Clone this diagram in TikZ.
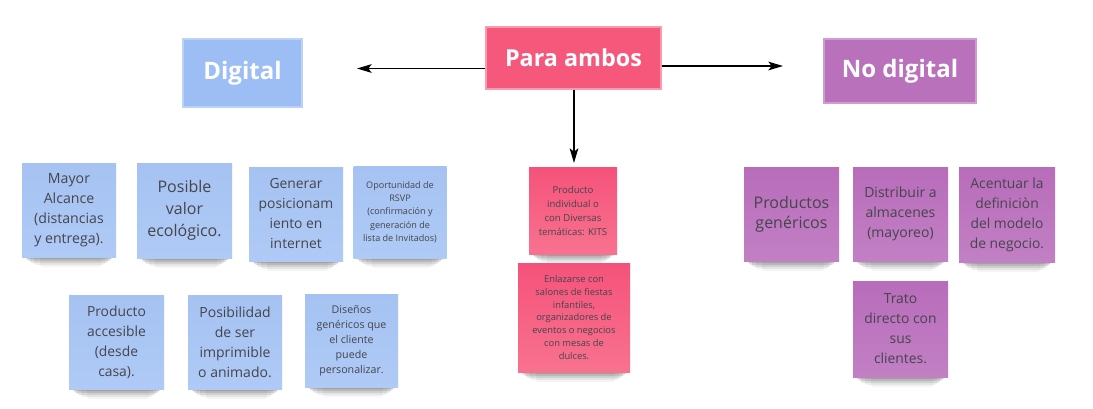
\documentclass[tikz,border=0pt]{standalone}
\usepackage{fontspec}
\setmainfont{Open Sans}
\usetikzlibrary{arrows.meta}
\definecolor{bluehead}{HTML}{9DBEF5}
\definecolor{bluenote}{HTML}{A5C2F2}
\definecolor{bluenoteb}{HTML}{AFCAF5}
\definecolor{pinkhead}{HTML}{F5587B}
\definecolor{pinknote}{HTML}{F5527A}
\definecolor{pinknoteb}{HTML}{F8728F}
\definecolor{purphead}{HTML}{BA71BC}
\definecolor{purpnote}{HTML}{B86CBA}
\definecolor{purpnoteb}{HTML}{C280C4}
\definecolor{notetext}{HTML}{45454C}
\tikzset{
  sz/.style 2 args={minimum width=#1*0.75pt, minimum height=#2*0.75pt},
  head/.style={inner sep=0pt, text=white, line width=0.8pt, font=\bfseries\fontsize{18pt}{20pt}\selectfont},
  note/.style={inner sep=0pt, align=center, text=notetext},
  bluen/.style={note, top color=bluenote, bottom color=bluenoteb},
  pinkn/.style={note, top color=pinknote, bottom color=pinknoteb},
  purpn/.style={note, top color=purpnote, bottom color=purpnoteb},
  conn/.style={draw=black, line width=0.9pt, -{Stealth[length=11pt,width=6.5pt,inset=2.5pt]}},
}
\newcommand\stickynote[8]{%
  \foreach \sd/\sl/\sr/\sop in {2/3/3/0.13,4/5/5/0.11,6/8/8/0.09,8/12/11/0.06,10/18/15/0.04}{
    \fill[black,opacity=\sop,rounded corners=2pt] ({#2-#4/2+\sl},{#3+#5/2-3}) rectangle ({#2+#4/2-\sr},{#3+#5/2+\sd});
  }
  \node[#6, sz={#4}{#5}, font=#7] (#1) at (#2,#3) {#8};
}
\begin{document}
\begin{tikzpicture}[x=0.75pt,y=-0.75pt]
\useasboundingbox[fill=white] (0,0) rectangle (1093,408);

% headers
\node[head, fill=bluehead, draw=bluehead!70!white, sz={119}{68}] (digital) at (242.5,73) {Digital};
\node[head, fill=pinkhead, draw=pinkhead!60!white, sz={175}{62}, font=\bfseries\fontsize{17.5pt}{20pt}\selectfont] (para) at (573.5,58) {Para ambos};
\node[head, fill=purphead, draw=purphead!70!white, sz={152}{64}] (nodig) at (900,71) {No digital};

% connectors
\coordinate (dl) at (357,68.5);
\coordinate (dr) at (783,66);
\coordinate (dd) at (574,163);
\draw[conn] (para.west |- dl) -- (dl);
\draw[conn] (para.east |- dr) -- (dr);
\draw[conn] (para.south -| dd) -- (dd);

% digital notes
\stickynote{a1}{69}{210}{94}{94}{bluen}{\fontsize{10.6pt}{15pt}\selectfont}{Mayor\\Alcance\\(distancias\\y entrega).}
\stickynote{a2}{184.5}{210.5}{95}{95}{bluen}{\fontsize{12pt}{16.5pt}\selectfont}{Posible\\valor\\ecológico.}
\stickynote{a3}{296}{214}{94}{94}{bluen}{\fontsize{10.4pt}{15pt}\selectfont}{Generar\\posicionam\\iento en\\internet}
\stickynote{a4}{400}{212}{93}{92}{bluen}{\fontsize{6.8pt}{10pt}\selectfont}{Oportunidad de\\RSVP\\(confirmación y\\generación de\\lista de Invitados)}
\stickynote{b1}{116.5}{342}{95}{94}{bluen}{\fontsize{10.4pt}{15pt}\selectfont}{Producto\\accesible\\(desde\\casa).}
\stickynote{b2}{235}{342}{94}{94}{bluen}{\fontsize{10.5pt}{15pt}\selectfont}{Posibilidad\\de ser\\imprimible\\o animado.}
\stickynote{b3}{351.5}{340.5}{93}{93}{bluen}{\fontsize{8pt}{11.3pt}\selectfont}{Diseños\\genéricos que\\el cliente\\puede\\personalizar.}

% both
\stickynote{p1}{573}{210.5}{88}{87}{pinkn}{\fontsize{7.2pt}{10.5pt}\selectfont}{Producto\\individual o\\con Diversas\\temáticas: KITS}
\stickynote{p2}{574}{317.5}{112}{109}{pinkn}{\fontsize{7pt}{9.6pt}\selectfont}{Enlazarse con\\salones de fiestas\\infantiles,\\organizadores de\\eventos o negocios\\con mesas de\\dulces.}

% no digital
\stickynote{u1}{791.5}{214}{95}{94}{purpn}{\fontsize{12pt}{15pt}\selectfont}{Productos\\genéricos}
\stickynote{u2}{900.5}{214}{95}{94}{purpn}{\fontsize{10.5pt}{15pt}\selectfont}{Distribuir a\\almacenes\\(mayoreo)}
\stickynote{u3}{1007}{214.5}{96}{95}{purpn}{\fontsize{10.4pt}{15pt}\selectfont}{Acentuar la\\definiciòn\\del modelo\\de negocio.}
\stickynote{u4}{900.5}{329}{95}{96}{purpn}{\fontsize{10.4pt}{15pt}\selectfont}{Trato\\directo con\\sus\\clientes.}
\end{tikzpicture}
\end{document}
